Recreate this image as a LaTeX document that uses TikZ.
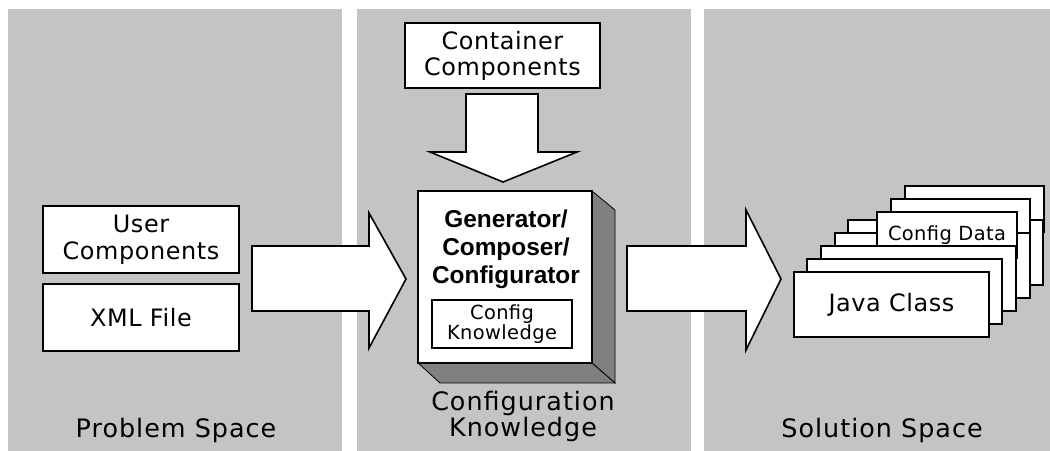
\documentclass[tikz,border=0pt]{standalone}
\usepackage{fontspec}
\setmainfont{DejaVu Sans}
\newfontfamily\arialbold{Liberation Sans Bold}
\newfontfamily\spacedbig{DejaVu Sans}[LetterSpace=4]
\newfontfamily\spacedmid{DejaVu Sans}[LetterSpace=2.5]
\newfontfamily\spacedsmall{DejaVu Sans}[LetterSpace=2]
\definecolor{panelgray}{RGB}{196,196,196}
\definecolor{sidegray}{RGB}{128,128,128}
\begin{document}
\begin{tikzpicture}[x=1bp,y=-1bp,
  box/.style={draw=black, fill=white, line width=2bp, outer sep=0pt, inner sep=0pt, align=center},
  page/.style={box, anchor=north west},
  midtext/.style={font=\spacedmid\fontsize{24}{27}\selectfont},
  smalltext/.style={font=\spacedsmall\fontsize{19.5}{20}\selectfont},
  blockarrow/.style={draw=black, fill=white, line width=1.6bp, line join=miter},
  biglabel/.style={font=\spacedbig\fontsize{25.5}{27}\selectfont, align=center, inner sep=0pt}
]
\useasboundingbox (0,0) rectangle (1050,451);
\fill[white] (0,0) rectangle (1050,451);
% panels
\fill[panelgray] (8,9) rectangle (342,451);
\fill[panelgray] (357,9) rectangle (691,451);
\fill[panelgray] (704,9) rectangle (1050,451);

% problem space
\node[box, midtext, minimum width=196bp, minimum height=67bp] (user) at (141,239.5) {User\\Components};
\node[box, midtext, minimum width=196bp, minimum height=67bp] (xml) at (141,317.5) {XML File};
\node[biglabel] (ps) at (176,430) {Problem Space};

% container components
\node[box, font=\spacedmid\fontsize{24}{26}\selectfont, minimum width=195bp, minimum height=65bp] (cont) at (502.5,55.5) {Container\\Components};

% block arrows
\draw[blockarrow] (466,94) -- (538,94) -- (538,152) -- (577,152) -- (503,182) -- (430,152) -- (466,152) -- cycle;
\draw[blockarrow] (252,246) -- (369,246) -- (369,213) -- (406,279) -- (369,348) -- (369,311) -- (252,311) -- cycle;
\draw[blockarrow] (627,246) -- (746,246) -- (746,210) -- (781,279) -- (746,350) -- (746,311) -- (627,311) -- cycle;

% generator 3D box
\draw[fill=sidegray, draw=black, line width=0.8bp] (592,191) -- (615,210) -- (615,383) -- (592,363) -- cycle;
\draw[fill=sidegray, draw=black, line width=0.8bp] (418,363) -- (440,383) -- (615,383) -- (592,363) -- cycle;
\node[box, minimum width=174bp, minimum height=172bp] (gen) at (505,277) {};
\node[font=\arialbold\fontsize{24.5}{28}\selectfont, align=center, inner sep=0pt] (gentext) at (506,249) {Generator/\\Composer/\\Configurator};
\node[box, smalltext, minimum width=140bp, minimum height=48bp] (ck) at (502,324) {Config\\Knowledge};
\node[biglabel] (ckl) at (523,416.5) {Configuration\\Knowledge};

% solution space stack
\node[page, minimum width=139bp, minimum height=46bp] (c2) at (905,186) {};
\node[page, minimum width=195bp, minimum height=65bp] (j4) at (848,220) {};
\node[page, minimum width=139bp, minimum height=46bp] (c1) at (891,199) {};
\node[page, minimum width=195bp, minimum height=65bp] (j3) at (835,233) {};
\node[page, smalltext, minimum width=140bp, minimum height=46bp] (c0) at (877,212) {Config Data};
\node[page, minimum width=195bp, minimum height=65bp] (j2) at (821,246) {};
\node[page, minimum width=195bp, minimum height=65bp] (j1) at (807,259) {};
\node[page, midtext, minimum width=195bp, minimum height=65bp] (j0) at (794,272.5) {Java Class};
\node[biglabel] (ss) at (882,430) {Solution Space};
\end{tikzpicture}
\end{document}
